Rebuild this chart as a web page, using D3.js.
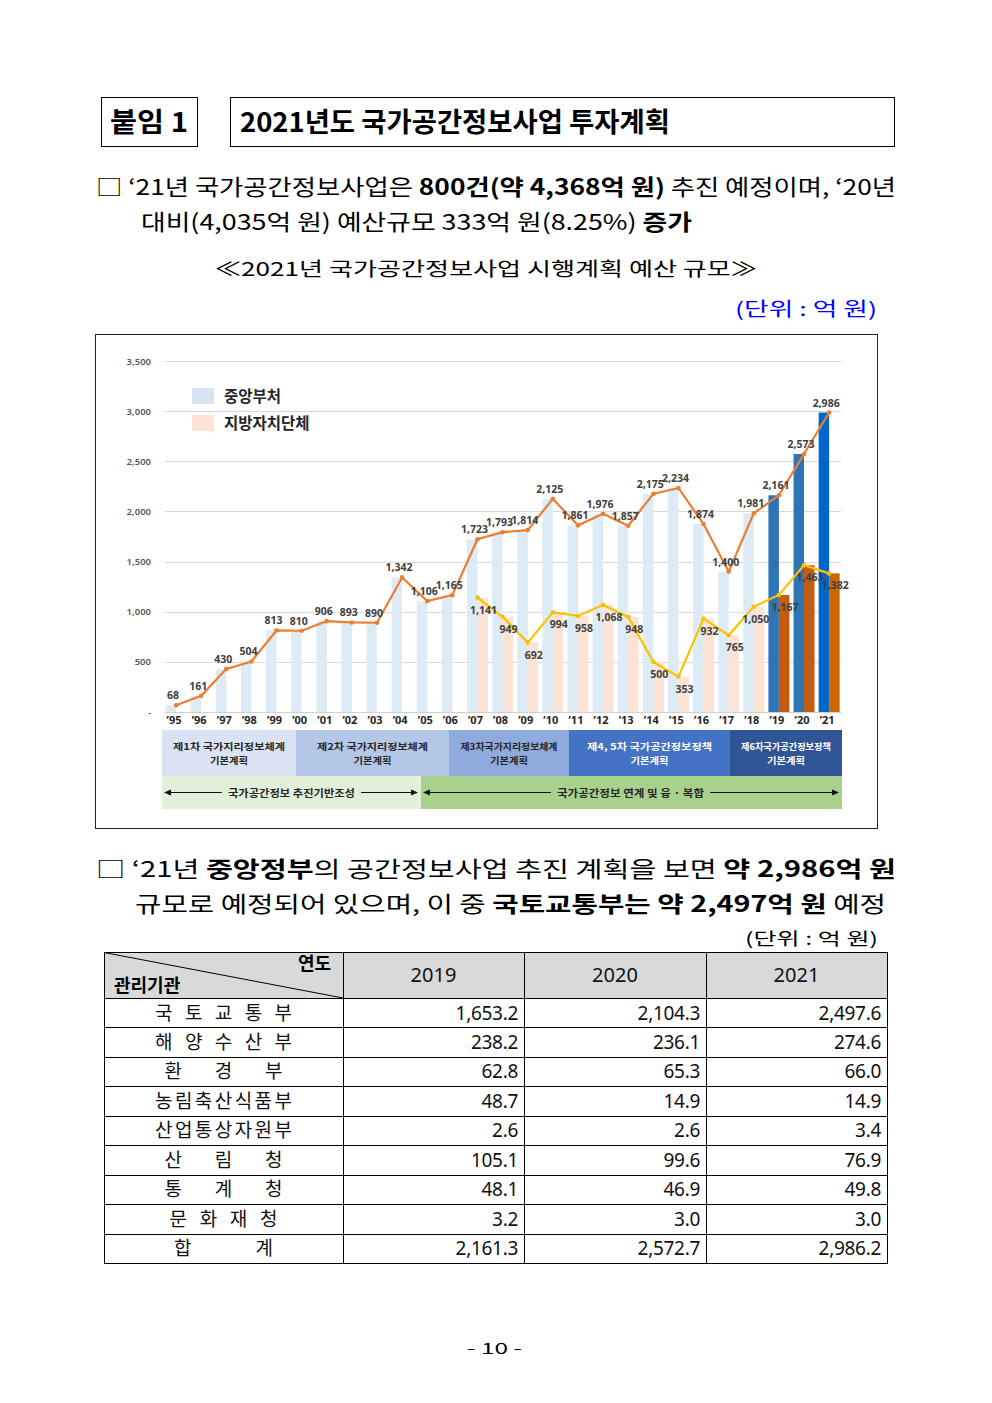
<!DOCTYPE html>
<html><head><meta charset="utf-8">
<script src="https://cdn.jsdelivr.net/npm/d3@7"></script>
<style>body{margin:0;background:#fff}svg{display:block}</style>
</head><body><svg id="c" width="992" height="1403"></svg>
<script>
// ---------- DATA ----------
const years = ["’95","’96","’97","’98","’99","’00","’01","’02","’03","’04","’05","’06","’07","’08","’09","’10","’11","’12","’13","’14","’15","’16","’17","’18","’19","’20","’21"];
const central = [68,161,430,504,813,810,906,893,890,1342,1106,1165,1723,1793,1814,2125,1861,1976,1857,2175,2234,1874,1400,1981,2161,2573,2986];
const local = [null,null,null,null,null,null,null,null,null,null,null,null,1141,949,692,994,958,1068,948,500,353,932,765,1050,1167,1463,1382];
const yTicks = [0,500,1000,1500,2000,2500,3000,3500];
const legendLabels = ["중앙부처","지방자치단체"];
const planLines1 = ["제1차 국가지리정보체계","제2차 국가지리정보체계","제3차국가지리정보체계","제4, 5차 국가공간정보정책","제6차국가공간정보정책"];
const planLines2 = ["기본계획","기본계획","기본계획","기본계획","기본계획"];
const phaseLabels = ["국가공간정보 추진기반조성","국가공간정보 연계 및 융 · 복합"];
const tableYears = ["2019","2020","2021"];
const agencies = ["국토교통부","해양수산부","환경부","농림축산식품부","산업통상자원부","산림청","통계청","문화재청","합계"];
const val2019 = [1653.2,238.2,62.8,48.7,2.6,105.1,48.1,3.2,2161.3];
const val2020 = [2104.3,236.1,65.3,14.9,2.6,99.6,46.9,3.0,2572.7];
const val2021 = [2497.6,274.6,66.0,14.9,3.4,76.9,49.8,3.0,2986.2];

// ---------- LAYOUT ----------
const svg = d3.select("#c");
svg.append("rect").attr("width",992).attr("height",1403).attr("fill","#fff");
const KR = "'Noto Sans CJK KR','Noto Sans',sans-serif";

function line(x, y, w, size, parts, opts={}) {
  const t = svg.append("text").attr("x",x).attr("y",y)
    .attr("font-family",KR).attr("font-size",size)
    .attr("fill",opts.fill||"#000").style("white-space","pre");
  if (w) t.attr("textLength",w).attr("lengthAdjust","spacingAndGlyphs");
  parts.forEach(p=>{
    t.append("tspan").text(p[0]).attr("font-weight",p[1]?700:400);
  });
  return t;
}

// Header boxes
svg.append("rect").attr("x",101.5).attr("y",97.5).attr("width",96).attr("height",49).attr("fill","none").attr("stroke","#000");
svg.append("rect").attr("x",230.5).attr("y",97.5).attr("width",664).attr("height",49).attr("fill","none").attr("stroke","#000");
line(110,132,78,27,[["붙임 1",1]]).attr("font-weight",900);
line(240,132,430,27,[["2021년도 국가공간정보사업 투자계획",1]]).attr("font-weight",900);

line(96,195,800,22,[["□ ‘21년 국가공간정보사업은 ",0],["800건(약 4,368억 원)",1],[" 추진 예정이며, ‘20년",0]]);
line(141,230,551,22,[["대비(4,035억 원) 예산규모 333억 원(8.25%) ",0],["증가",1]]);
line(215,276,542,19,[["≪2021년 국가공간정보사업 시행계획 예산 규모≫",0]]);
line(735,316,142,19,[["(단위 : 억 원)",0]],{fill:"#0000ff"});

line(96,877,800,22,[["□ ‘21년 ",0],["중앙정부",1],["의 공간정보사업 추진 계획을 보면 ",0],["약 2,986억 원",1]]);
line(135,912,751,22,[["규모로 예정되어 있으며, 이 중 ",0],["국토교통부는 약 2,497억 원",1],[" 예정",0]]);
line(745,945,133,17,[["(단위 : 억 원)",0]]);
line(467,1354,55,15,[["- 10 -",0]]);

// ---------- CHART ----------
svg.append("rect").attr("x",95.5).attr("y",334.5).attr("width",782).attr("height",494).attr("fill","#fff").attr("stroke","#222");

const y = d3.scaleLinear().domain([0,3500]).range([712,361]);
const x = d3.scaleBand().domain(years).range([163.5,841.7]).padding(0);
const cx = d => x(d) + x.bandwidth()/2;
const bw = 10.5;
const g = svg.append("g");

// gridlines
g.selectAll(".grid").data(yTicks).join("line")
  .attr("x1",165).attr("x2",841).attr("y1",d=>Math.round(y(d))+0.5).attr("y2",d=>Math.round(y(d))+0.5)
  .attr("stroke",d=>d===0?"#d0d0d0":"#d9d9d9").attr("stroke-width",1);
// y tick labels
g.selectAll(".yt").data(yTicks).join("text")
  .attr("x",151).attr("y",d=>y(d)+3.5).attr("text-anchor","end")
  .attr("font-family","'Noto Sans',sans-serif").attr("font-size",9.5).attr("font-weight",600)
  .attr("fill","#595959").text(d=>d===0?"-":d3.format(",")(d));

const cCol = (i)=> i===26?"#0066CC":(i>=24?"#2E75B6":"#DDEBF7");
const lCol = (i)=> i===26?"#CC6600":(i>=24?"#C55A11":"#FBE3D5");

// central bars
g.selectAll(".cb").data(central).join("rect")
  .attr("x",(d,i)=>cx(years[i])-bw).attr("width",bw)
  .attr("y",d=>y(d)).attr("height",d=>y(0)-y(d)).attr("fill",(d,i)=>cCol(i));
// local bars
g.selectAll(".lb").data(local.map((v,i)=>({v,i})).filter(d=>d.v!=null)).join("rect")
  .attr("x",d=>cx(years[d.i])).attr("width",bw)
  .attr("y",d=>y(d.v)).attr("height",d=>y(0)-y(d.v)).attr("fill",d=>lCol(d.i));

// lines
const lc = d3.line().x((d,i)=>cx(years[i])).y(d=>y(d));
g.append("path").attr("d",lc(central)).attr("fill","none").attr("stroke","#ED7D31").attr("stroke-width",2.2);
const lpts = local.map((v,i)=>({v,i})).filter(d=>d.v!=null);
const ll = d3.line().x(d=>cx(years[d.i])).y(d=>y(d.v));
g.append("path").attr("d",ll(lpts)).attr("fill","none").attr("stroke","#FFC000").attr("stroke-width",2.2);
g.selectAll(".cm").data(central).join("circle").attr("cx",(d,i)=>cx(years[i])).attr("cy",d=>y(d)).attr("r",2.3).attr("fill","#ED7D31");
g.selectAll(".lm").data(lpts).join("circle").attr("cx",d=>cx(years[d.i])).attr("cy",d=>y(d.v)).attr("r",2.3).attr("fill","#FFC000");

// data labels
const lblFont = "'Noto Sans',sans-serif";
g.selectAll(".cl").data(central).join("text")
  .attr("x",(d,i)=>cx(years[i])-3).attr("y",d=>y(d)-6).attr("text-anchor","middle")
  .attr("font-family",lblFont).attr("font-size",10.5).attr("font-weight",700).attr("fill","#404040")
  .text(d=>d3.format(",")(d));
g.selectAll(".ll").data(lpts).join("text")
  .attr("x",d=>cx(years[d.i])+(d.i===23?2:6)).attr("y",d=>y(d.v)+16).attr("text-anchor","middle")
  .attr("font-family",lblFont).attr("font-size",10.5).attr("font-weight",700).attr("fill","#404040")
  .text(d=>d3.format(",")(d.v));

// x labels
g.selectAll(".xl").data(years).join("text")
  .attr("x",d=>cx(d)-2).attr("y",724).attr("text-anchor","middle")
  .attr("font-family",lblFont).attr("font-size",11).attr("font-weight",700).attr("fill","#262626")
  .text(d=>d);

// legend
const legCols = ["#DAE3F3","#FBE3D5"];
legendLabels.forEach((t,i)=>{
  g.append("rect").attr("x",192).attr("y",388+i*27).attr("width",22).attr("height",16).attr("fill",legCols[i]);
  g.append("text").attr("x",224).attr("y",402+i*27).attr("font-family",KR).attr("font-size",15.5)
    .attr("font-weight",700).attr("fill","#262626").text(t);
});

// plan bands
const planEdges = [162,296,449,569,730,842];
const planFill = ["#DAE3F3","#B4C7E7","#8FAADC","#4472C4","#2F5597"];
const planText = ["#262626","#262626","#262626","#fff","#fff"];
const planW1 = [112,111,97,125,90];
planLines1.forEach((t,i)=>{
  const x0=planEdges[i], x1=planEdges[i+1], m=(x0+x1)/2;
  g.append("rect").attr("x",x0).attr("y",730).attr("width",x1-x0).attr("height",46).attr("fill",planFill[i]);
  g.append("text").attr("x",m-planW1[i]/2).attr("y",749.5).attr("font-family",KR).attr("font-size",9.5).attr("font-weight",700)
    .attr("fill",planText[i]).attr("textLength",planW1[i]).attr("lengthAdjust","spacingAndGlyphs").text(t);
  g.append("text").attr("x",m-19).attr("y",763.5).attr("font-family",KR).attr("font-size",9.5).attr("font-weight",700)
    .attr("fill",planText[i]).attr("textLength",38).attr("lengthAdjust","spacingAndGlyphs").text(planLines2[i]);
});
// phase bands
const phaseEdges = [[162,421],[421,842]];
const phaseFill = ["#E2F0D9","#A9D18E"];
const phaseW = [127,147];
phaseLabels.forEach((t,i)=>{
  const [x0,x1]=phaseEdges[i], m=(x0+x1)/2 + (i===0?0:-1);
  g.append("rect").attr("x",x0).attr("y",776).attr("width",x1-x0).attr("height",33).attr("fill",phaseFill[i]);
  const a0=x0+2, a1=x1-3, yy=792.5;
  g.append("line").attr("x1",a0+5).attr("x2",a1-5).attr("y1",yy).attr("y2",yy).attr("stroke","#111").attr("stroke-width",1);
  g.append("path").attr("d",`M${a0},${yy}L${a0+7},${yy-3}L${a0+7},${yy+3}Z`).attr("fill","#111");
  g.append("path").attr("d",`M${a1},${yy}L${a1-7},${yy-3}L${a1-7},${yy+3}Z`).attr("fill","#111");
  g.append("rect").attr("x",m-phaseW[i]/2-6).attr("y",784).attr("width",phaseW[i]+12).attr("height",17).attr("fill",phaseFill[i]);
  g.append("text").attr("x",m-phaseW[i]/2).attr("y",796.5).attr("font-family",KR).attr("font-size",10.5).attr("font-weight",700)
    .attr("fill","#262626").attr("textLength",phaseW[i]).attr("lengthAdjust","spacingAndGlyphs").text(t);
});

// ---------- TABLE ----------
const colX = [104,343,524,706,887];
const rowTop = 952, headH = 46, rowH = 29.45;
const tg = svg.append("g");
tg.append("rect").attr("x",colX[0]).attr("y",rowTop).attr("width",colX[4]-colX[0]).attr("height",headH).attr("fill","#D9D9D9");
const nRows = agencies.length;
const yEnd = rowTop+headH+nRows*rowH;
d3.range(nRows+2).forEach(k=>{
  const yy = k===0?rowTop:rowTop+headH+(k-1)*rowH;
  tg.append("line").attr("x1",colX[0]).attr("x2",colX[4]).attr("y1",Math.round(yy)+0.5).attr("y2",Math.round(yy)+0.5).attr("stroke","#000");
});
colX.forEach(cxp=>{
  tg.append("line").attr("x1",cxp+0.5).attr("x2",cxp+0.5).attr("y1",rowTop).attr("y2",Math.round(yEnd)+1).attr("stroke","#000");
});
tg.append("line").attr("x1",colX[0]).attr("y1",rowTop+0.5).attr("x2",colX[1]).attr("y2",rowTop+headH).attr("stroke","#000");
tg.append("text").attr("x",331).attr("y",970).attr("text-anchor","end").attr("font-family",KR).attr("font-size",18).attr("font-weight",700).text("연도");
tg.append("text").attr("x",114).attr("y",992).attr("font-family",KR).attr("font-size",18).attr("font-weight",700).text("관리기관");
tableYears.forEach((t,i)=>{
  tg.append("text").attr("x",(colX[i+1]+colX[i+2])/2).attr("y",982).attr("text-anchor","middle")
    .attr("font-family","'Noto Sans',sans-serif").attr("font-size",20).attr("fill","#111").text(t);
});
const labelSpan = [137,137,118,137,137,118,118,108,99];
const fmt = d3.format(",.1f");
const cols = [val2019,val2020,val2021];
agencies.forEach((a,r)=>{
  const by = rowTop+headH+r*rowH+21.5;
  const w = labelSpan[r];
  tg.append("text").attr("x",223.5-w/2).attr("y",by).attr("font-family",KR).attr("font-size",19)
    .attr("textLength",w).attr("lengthAdjust","spacing").attr("fill","#111").text(a);
  cols.forEach((arr,c)=>{
    tg.append("text").attr("x",colX[c+2]-6).attr("y",by).attr("text-anchor","end")
      .attr("font-family","'Noto Sans',sans-serif").attr("font-size",19).attr("fill","#111")
      .attr("letter-spacing",-0.3).text(fmt(arr[r]));
  });
});
</script></body></html>
